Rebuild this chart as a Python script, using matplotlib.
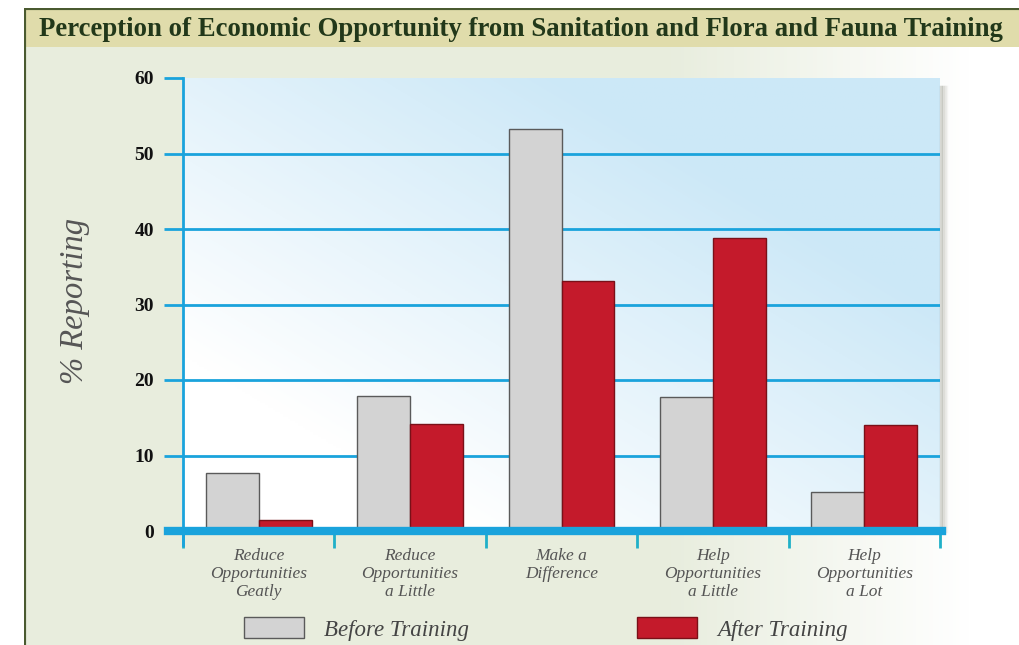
import numpy as np
import matplotlib
matplotlib.use('Agg')
import matplotlib.pyplot as plt
from matplotlib.patches import Rectangle, Patch

categories = ["Reduce\nOpportunities\nGeatly", "Reduce\nOpportunities\na Little",
              "Make a\nDifference", "Help\nOpportunities\na Little",
              "Help\nOpportunities\na Lot"]
before = [7.7, 17.9, 53.3, 17.7, 5.2]
after = [1.5, 14.2, 33.1, 38.8, 14.1]
yticks = [0, 10, 20, 30, 40, 50, 60]

W, H = 1019, 645
fig = plt.figure(figsize=(W / 100, H / 100), dpi=100)
fig.patch.set_facecolor('white')

# background frame with greenish-gray to white gradient
bg = fig.add_axes([24 / W, 0, 1 - 24 / W, 1 - 8 / H])
gx = np.linspace(0, 1, 300)
grad = np.clip((gx - 0.65) / 0.3, 0, 1)
c0 = np.array([0.91, 0.93, 0.87])
c1 = np.array([1.0, 1.0, 1.0])
img = c0[None, :] * (1 - grad[:, None]) + c1[None, :] * grad[:, None]
bg.imshow(img[None, :, :], aspect='auto', extent=[0, 1, 0, 1])
bg.set_xlim(0, 1)
bg.set_ylim(0, 1)
bg.axis('off')
# title band
band_h = 39 / (H - 8)
bg.add_patch(Rectangle((0, 1 - band_h), 1, band_h, facecolor='#e0dcab', edgecolor='none'))
bg.plot([0, 0], [0, 1], color='#4a5a30', lw=3)
bg.plot([0, 1], [1, 1], color='#4a5a30', lw=3)
fig.text(521 / W, 1 - 30 / H, "Perception of Economic Opportunity from Sanitation and Flora and Fauna Training",
         ha='center', va='center', family='Liberation Serif', weight='bold',
         fontsize=19.3, color='#22381a')

ax = fig.add_axes([183 / W, (H - 531) / H, (940 - 183) / W, (531 - 78) / H])
ax.set_xlim(-0.5, 4.5)
ax.set_ylim(0, 60)

# panel gradient: white lower-left to light blue upper-right
yy, xx = np.mgrid[0:1:200j, 0:1:300j]
t = np.clip((xx * 0.9 + yy * 0.9) - 0.35, 0, 1)
blue = np.array([0.80, 0.91, 0.97])
white = np.array([1.0, 1.0, 1.0])
pimg = white[None, None, :] * (1 - t[..., None]) + blue[None, None, :] * t[..., None]
ax.imshow(pimg, aspect='auto', extent=[-0.5, 4.5, 0, 60], origin='lower', zorder=0)

# soft shadow on the right edge of the panel
for i, a in enumerate([0.25, 0.15, 0.08, 0.04]):
    ax.axvline(4.5 + 0.012 * (i + 0.5), ymin=0, ymax=0.98, color='#707060', alpha=a,
               lw=2.5, clip_on=False, zorder=0)

cyan = '#1aa3dc'
for v in yticks[1:-1]:
    ax.axhline(v, color=cyan, lw=2, zorder=1)

x = np.arange(len(categories))
w = 0.35
ax.bar(x - w / 2, before, w, color='#d3d3d3', edgecolor='#5a5a5a', lw=1, zorder=2)
ax.bar(x + w / 2, after, w, color='#c41a2b', edgecolor='#7a1018', lw=1, zorder=2)

for s in ['top', 'right', 'bottom']:
    ax.spines[s].set_visible(False)
ax.spines['left'].set_color(cyan)
ax.spines['left'].set_linewidth(2)
ax.spines['left'].set_bounds(-1.8, 60)
ax.axhline(0, xmin=-0.02, xmax=1.003, color=cyan, lw=6, zorder=3, clip_on=False)

ax.set_yticks(yticks)
ax.set_yticklabels([str(v) for v in yticks], family='Liberation Serif', weight='bold',
                   fontsize=14, color='#111111')
ax.tick_params(axis='y', direction='out', length=14, width=2, color=cyan, pad=7)

ax.set_xticks(x)
ax.set_xticklabels(categories, family='Liberation Serif', style='italic', fontsize=12.5,
                   color='#555555', linespacing=1.2)
ax.tick_params(axis='x', length=0, pad=12)
ax.set_xticks(np.arange(-0.5, 5, 1), minor=True)
ax.tick_params(axis='x', which='minor', direction='out', length=12, width=2, color='#20b0c8')

fig.text(75 / W, 1 - 301 / H, "% Reporting", rotation=90, ha='center', va='center',
         family='Liberation Serif', style='italic', fontsize=23.5, color='#555555')

handles = [Patch(facecolor='#d3d3d3', edgecolor='#5a5a5a', label='Before Training'),
           Patch(facecolor='#c41a2b', edgecolor='#7a1018', label='After Training')]
leg = fig.legend(handles=handles, loc='center', bbox_to_anchor=(546 / W, 1 - 629 / H), ncol=2,
                 frameon=False, handlelength=2.6, handleheight=1.0, columnspacing=7.35,
                 handletextpad=0.87, borderpad=0.2,
                 prop={'family': 'Liberation Serif', 'style': 'italic', 'size': 16.5})
for t_ in leg.get_texts():
    t_.set_color('#444444')

fig.savefig('out.png', dpi=100)
